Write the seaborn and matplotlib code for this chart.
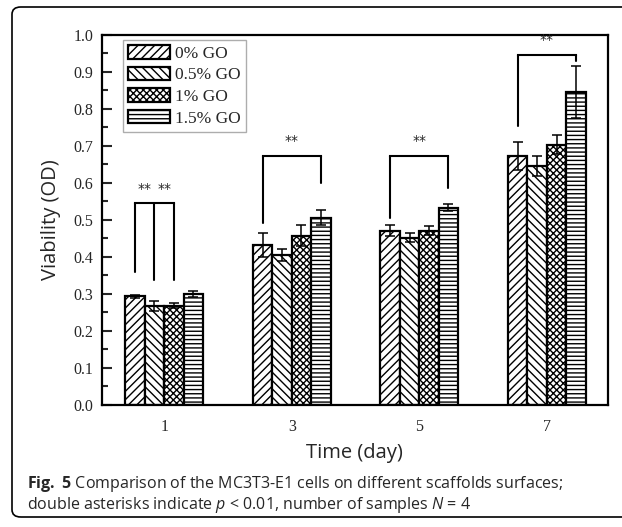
import numpy as np
import pandas as pd
import matplotlib
matplotlib.use("Agg")
import matplotlib.pyplot as plt
from matplotlib.patches import Patch, FancyBboxPatch
from matplotlib.ticker import MultipleLocator, FixedLocator
import seaborn as sns

# ---------------- data ----------------
days = ["1", "3", "5", "7"]
groups = ["0% GO", "0.5% GO", "1% GO", "1.5% GO"]
mean_0 = [0.293, 0.432, 0.470, 0.673]
mean_05 = [0.267, 0.405, 0.452, 0.644]
mean_1 = [0.268, 0.457, 0.470, 0.703]
mean_15 = [0.299, 0.505, 0.533, 0.845]
err_0 = [0.004, 0.032, 0.015, 0.038]
err_05 = [0.013, 0.017, 0.013, 0.027]
err_1 = [0.007, 0.028, 0.012, 0.025]
err_15 = [0.008, 0.020, 0.010, 0.070]
hatches = ["////", "\\\\\\\\", "xxxxx", "----"]

# significance brackets: (day index, bar indices of legs, leg bottoms, top)
br_day = [0, 1, 2, 3]
br_legs = [[0, 1, 2], [0, 3], [0, 3], [0, 3]]
br_bottoms = [[0.360, 0.337, 0.337], [0.490, 0.600], [0.505, 0.586], [0.753, 0.929]]
br_tops = [0.545, 0.673, 0.673, 0.945]
star_text = "**"

means = [mean_0, mean_05, mean_1, mean_15]
errs = [err_0, err_05, err_1, err_15]

df = pd.DataFrame({
    "day": np.repeat([days], 4, axis=0).ravel(),
    "group": np.repeat(groups, 4),
    "value": np.concatenate(means),
})

# ---------------- style ----------------
sns.set_theme(style="white")
plt.rcParams["font.family"] = ["Liberation Serif", "DejaVu Serif"]
plt.rcParams["hatch.linewidth"] = 1.0
plt.rcParams["mathtext.fontset"] = "custom"
plt.rcParams["mathtext.rm"] = "Open Sans"
plt.rcParams["mathtext.it"] = "Open Sans:italic"
plt.rcParams["mathtext.bf"] = "Open Sans:bold"

fig = plt.figure(figsize=(6.22, 5.27), dpi=100)
ax = fig.add_axes([0.1635, 0.2315, 0.814, 0.703])

sns.barplot(data=df, x="day", y="value", hue="group", order=days,
            hue_order=groups, width=0.61, gap=0, errorbar=None,
            palette=["white"] * 4, edgecolor="black", linewidth=1.6,
            legend=False, ax=ax, zorder=2)

# hatches and error bars (patches are ordered hue-major)
bar_pos = {}
for gi, g in enumerate(groups):
    for di in range(len(days)):
        p = ax.patches[gi * len(days) + di]
        p.set_hatch(hatches[gi])
        p.set_edgecolor("black")
        cx = p.get_x() + p.get_width() / 2
        bar_pos[(di, gi)] = cx
        ax.errorbar(cx, p.get_height(), yerr=errs[gi][di], color="black",
                    capsize=3.5, elinewidth=1.1, capthick=1.1, zorder=4)

# significance brackets
for d, legs, bots, top in zip(br_day, br_legs, br_bottoms, br_tops):
    xs = [bar_pos[(d, b)] for b in legs]
    ax.plot([xs[0], xs[-1]], [top, top], color="black", lw=1.5, zorder=5,
            solid_capstyle="projecting")
    for x, b in zip(xs, bots):
        ax.plot([x, x], [b, top], color="black", lw=1.5, zorder=5)
    if len(xs) == 2:
        ax.text((xs[0] + xs[1]) / 2, top + 0.02, star_text, ha="center",
                va="bottom", fontsize=10, family="DejaVu Sans")
    else:
        for a, b in zip(xs[:-1], xs[1:]):
            ax.text((a + b) / 2, top + 0.02, star_text, ha="center",
                    va="bottom", fontsize=10, family="DejaVu Sans")

# axes
ax.set_xlim(-0.49, 3.48)
ax.set_ylim(0, 1.0)
ax.yaxis.set_major_locator(MultipleLocator(0.1))
ax.yaxis.set_minor_locator(MultipleLocator(0.05))
ax.set_yticklabels([f"{v:.1f}" for v in ax.get_yticks()])
ax.xaxis.set_minor_locator(FixedLocator(np.arange(-0.25, 3.5, 0.5)))
ax.tick_params(axis="y", which="major", direction="in", length=7, width=1.5,
               labelsize=11.5, pad=6, left=True, right=False)
ax.tick_params(axis="y", which="minor", direction="in", length=4, width=1.5,
               left=True, right=False)
ax.tick_params(axis="x", which="major", length=0, labelsize=11.5, pad=10)
ax.tick_params(axis="x", which="minor", direction="in", length=4, width=1.2,
               bottom=True)
for s in ax.spines.values():
    s.set_linewidth(1.6)
    s.set_color("black")
ax.set_xlabel("Time (day)", fontsize=14.5, family="Open Sans", labelpad=6)
ax.set_ylabel("Viability (OD)", fontsize=14.5, family="Open Sans", labelpad=9)

handles = [Patch(facecolor="white", edgecolor="black", hatch=h, linewidth=1.6)
           for h in hatches]
leg = ax.legend(handles, groups, loc="upper left", bbox_to_anchor=(0.042, 0.985),
                fontsize=12.5, frameon=True, fancybox=False, edgecolor="#999999",
                handlelength=2.4, handleheight=0.8, labelspacing=0.28,
                handletextpad=0.3, borderpad=0.3, borderaxespad=0)
leg.get_frame().set_linewidth(1.0)

# caption
fig.text(27 / 622, 1 - 484 / 527,
         r"$\mathbf{Fig.\ 5}$ Comparison of the MC3T3-E1 cells on different scaffolds surfaces;",
         fontsize=11.5, family="Open Sans", va="center", ha="left")
fig.text(27 / 622, 1 - 505 / 527,
         r"double asterisks indicate $p$ < 0.01, number of samples $N$ = 4",
         fontsize=11.5, family="Open Sans", va="center", ha="left")

# outer rounded frame
frame = FancyBboxPatch((12 / 622, 10 / 527), 640 / 622, 510 / 527,
                       boxstyle="round,pad=0,rounding_size=0.014",
                       transform=fig.transFigure, facecolor="none",
                       edgecolor="black", linewidth=1.2, zorder=0)
fig.patches.append(frame)

fig.savefig("out.png", dpi=100)
